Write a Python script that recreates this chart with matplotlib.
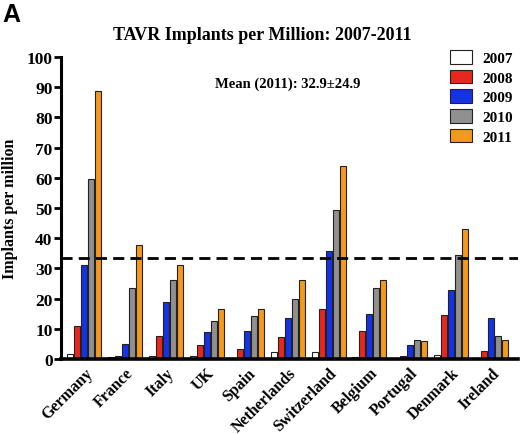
import matplotlib
matplotlib.use("Agg")
import matplotlib.pyplot as plt
import numpy as np

countries = ["Germany", "France", "Italy", "UK", "Spain", "Netherlands",
             "Switzerland", "Belgium", "Portugal", "Denmark", "Ireland"]
years = ["2007", "2008", "2009", "2010", "2011"]

v2007 = [1.8, 0.7, 1.0, 1.0, 0.0, 2.3, 2.3, 0.6, 0.0, 1.4, 0.0]
v2008 = [11.1, 1.2, 7.6, 4.8, 3.3, 7.3, 16.7, 9.2, 1.0, 14.7, 2.6]
v2009 = [31.3, 5.0, 19.0, 9.1, 9.3, 13.6, 35.9, 15.1, 4.8, 22.8, 13.6]
v2010 = [59.5, 23.5, 26.3, 12.7, 14.3, 19.8, 49.2, 23.6, 6.2, 34.3, 7.6]
v2011 = [88.8, 37.7, 31.1, 16.7, 16.7, 26.3, 63.8, 26.3, 5.9, 42.9, 6.2]
mean_line = 33.4

series = [v2007, v2008, v2009, v2010, v2011]
colors = ["#ffffff", "#e8281e", "#1432e6", "#909090", "#f39a1e"]

SERIF = "Liberation Serif"

fig = plt.figure(figsize=(5.2, 4.35), dpi=100)
ax = fig.add_axes([0.117, 0.172, 0.879, 0.695])

x = np.arange(len(countries))
pitch = 0.172
width = 0.148
for i, (vals, c, yr) in enumerate(zip(series, colors, years)):
    ax.bar(x + (i - 2) * pitch, vals, width, color=c, edgecolor="#222222",
           linewidth=0.8, label=yr, zorder=2)

ax.axhline(mean_line, color="black", linestyle=(0, (4, 2.2)), linewidth=2, zorder=3)

ax.set_xlim(-0.58, 10.65)
ax.set_ylim(0, 100)
ax.set_yticks(np.arange(0, 101, 10))
ax.set_yticklabels([str(t) for t in range(0, 101, 10)],
                   fontfamily=SERIF, fontweight="bold", fontsize=12.5)
ax.set_xticks(x)
ax.set_xticklabels(countries, rotation=45, ha="right", rotation_mode="anchor",
                   fontfamily=SERIF, fontweight="bold", fontsize=11.5)
ax.tick_params(axis="x", length=0, pad=4)
ax.tick_params(axis="y", length=5, width=2, pad=1)

for s in ["top", "right"]:
    ax.spines[s].set_visible(False)
ax.spines["left"].set_linewidth(2.2)
ax.spines["bottom"].set_linewidth(2.6)

ax.set_ylabel("Implants per million", fontfamily=SERIF, fontweight="bold",
              fontsize=11.5, labelpad=6)

fig.text(0.505, 0.918, "TAVR Implants per Million: 2007-2011", ha="center",
         va="center", fontfamily=SERIF, fontweight="bold", fontsize=13)
fig.text(0.413, 0.807, "Mean (2011): 32.9\u00b124.9", ha="left", va="center",
         fontfamily=SERIF, fontweight="bold", fontsize=10.5)
fig.text(0.005, 0.965, "A", ha="left", va="center", fontfamily="Liberation Sans",
         fontweight="bold", fontsize=18)

leg = ax.legend(loc="upper left", bbox_to_anchor=(0.865, 0.883), bbox_transform=fig.transFigure,
                frameon=False, prop={"family": SERIF, "weight": "bold", "size": 11},
                handlelength=1.45, handleheight=1.0, handletextpad=0.7, labelspacing=0.3,
                borderpad=0, borderaxespad=0)

fig.savefig("out.png", dpi=100)
